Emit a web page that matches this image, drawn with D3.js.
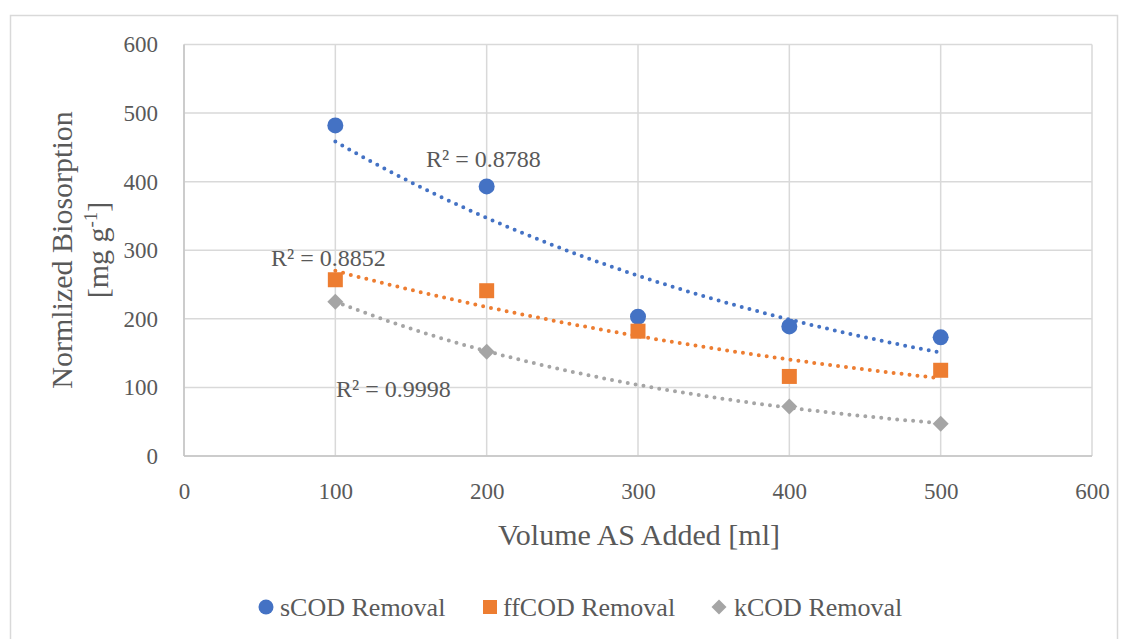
<!DOCTYPE html>
<html><head><meta charset="utf-8">
<script src="https://cdn.jsdelivr.net/npm/d3@7"></script>
<style>html,body{margin:0;padding:0;background:#fff;}svg{display:block;}</style>
</head><body>
<svg id="c" width="1128" height="639"></svg>
<script>
const xValues = [100, 200, 300, 400, 500];
const sCOD = [482, 393, 203, 189, 173];
const ffCOD = [257, 241, 182, 116, 125];
const kCOD = [225, 152, null, 72, 47];
const seriesNames = ["sCOD Removal", "ffCOD Removal", "kCOD Removal"];
const r2Labels = ["R² = 0.8788", "R² = 0.8852", "R² = 0.9998"];
const xTicks = [0, 100, 200, 300, 400, 500, 600];
const yTicks = [0, 100, 200, 300, 400, 500, 600];

(function () {
const colors = ["#4472C4", "#ED7D31", "#A5A5A5"];
const font = "'Liberation Serif', 'DejaVu Serif', serif";
const textColor = "#595959";
const svg = d3.select("#c");

svg.append("rect").attr("x", 10.5).attr("y", 15.5).attr("width", 1107).attr("height", 640)
  .attr("fill", "none").attr("stroke", "#d9d9d9").attr("stroke-width", 1.5);

const pL = 184, pR = 1092, pT = 44.5, pB = 456;
const x = d3.scaleLinear().domain([0, 600]).range([pL, pR]);
const y = d3.scaleLinear().domain([0, 600]).range([pB, pT]);

const g = svg.append("g");
g.selectAll(".hg").data(yTicks).join("line")
  .attr("x1", pL).attr("x2", pR).attr("y1", d => y(d)).attr("y2", d => y(d))
  .attr("stroke", "#d9d9d9").attr("stroke-width", 1.5);
g.selectAll(".vg").data(xTicks).join("line")
  .attr("y1", pT).attr("y2", pB).attr("x1", d => x(d)).attr("x2", d => x(d))
  .attr("stroke", "#d9d9d9").attr("stroke-width", 1.5);
g.append("line").attr("x1", pL).attr("x2", pR).attr("y1", pB).attr("y2", pB)
  .attr("stroke", "#c4c4c4").attr("stroke-width", 1.5);
g.append("line").attr("x1", pL).attr("x2", pL).attr("y1", pT).attr("y2", pB)
  .attr("stroke", "#c4c4c4").attr("stroke-width", 1.5);

const yAxis = svg.append("g").attr("transform", `translate(${pL},0)`)
  .call(d3.axisLeft(y).tickValues(yTicks).tickSize(0).tickPadding(26));
yAxis.attr("font-family", font).attr("font-size", 23);
yAxis.select(".domain").remove();
yAxis.selectAll("text").attr("font-family", font).attr("font-size", 23).attr("fill", textColor);

const xAxis = svg.append("g").attr("transform", `translate(0,${pB})`)
  .call(d3.axisBottom(x).tickValues(xTicks).tickSize(0));
xAxis.attr("font-family", font).attr("font-size", 23);
xAxis.select(".domain").remove();
xAxis.selectAll("text").attr("font-family", font).attr("font-size", 23).attr("fill", textColor)
  .attr("dy", null).attr("y", 43);

svg.append("text").attr("x", 639).attr("y", 545).attr("text-anchor", "middle")
  .attr("font-family", font).attr("font-size", 30).attr("fill", textColor)
  .text("Volume AS Added [ml]");
const yt = svg.append("text").attr("transform", "translate(0,250) rotate(-90)")
  .attr("text-anchor", "middle").attr("font-family", font).attr("font-size", 30).attr("fill", textColor);
yt.append("tspan").attr("x", 0).attr("y", 72).text("Normlized Biosorption");
const t2 = yt.append("tspan").attr("x", 0).attr("y", 108);
t2.append("tspan").text("[mg g");
t2.append("tspan").attr("dy", -11).attr("font-size", 19).text("-1");
t2.append("tspan").attr("dy", 11).text("]");

function expFit(xs, ys) {
  const pts = xs.map((d, i) => [d, ys[i]]).filter(p => p[1] != null);
  const mx = d3.mean(pts, p => p[0]);
  const ml = d3.mean(pts, p => Math.log(p[1]));
  const b = d3.sum(pts, p => (p[0] - mx) * (Math.log(p[1]) - ml)) / d3.sum(pts, p => (p[0] - mx) ** 2);
  const a = Math.exp(ml - b * mx);
  const xmin = d3.min(pts, p => p[0]), xmax = d3.max(pts, p => p[0]);
  return d3.range(0, 101).map(i => { const xx = xmin + (xmax - xmin) * i / 100; return [xx, a * Math.exp(b * xx)]; });
}
const allSeries = [sCOD, ffCOD, kCOD];
const line = d3.line().x(d => x(d[0])).y(d => y(d[1]));
allSeries.forEach((s, i) => {
  svg.append("path").attr("d", line(expFit(xValues, s))).attr("fill", "none")
    .attr("stroke", colors[i]).attr("stroke-width", 4).attr("stroke-linecap", "round")
    .attr("stroke-dasharray", "0 8");
});

const sym = [d3.symbolCircle, d3.symbolSquare, d3.symbolSquare];
const rot = [0, 0, 45];
const sizes = [201, 225, 128];
allSeries.forEach((s, i) => {
  svg.append("g").selectAll("path").data(xValues.map((d, j) => [d, s[j]]).filter(p => p[1] != null))
    .join("path").attr("transform", d => `translate(${x(d[0])},${y(d[1])}) rotate(${rot[i]})`)
    .attr("d", d3.symbol().type(sym[i]).size(sizes[i])).attr("fill", colors[i]);
});

const r2Pos = [[426, 167], [271, 266], [336, 397]];
r2Labels.forEach((t, i) => {
  svg.append("text").attr("x", r2Pos[i][0]).attr("y", r2Pos[i][1])
    .attr("font-family", font).attr("font-size", 24).attr("fill", textColor).text(t);
});

const legMarkX = [266, 490, 719];
const legTextX = [280, 503, 734];
const legSizes = [177, 196, 113];
seriesNames.forEach((n, i) => {
  svg.append("path").attr("transform", `translate(${legMarkX[i]},607) rotate(${rot[i]})`)
    .attr("d", d3.symbol().type(sym[i]).size(legSizes[i])).attr("fill", colors[i]);
  svg.append("text").attr("x", legTextX[i]).attr("y", 616)
    .attr("font-family", font).attr("font-size", 26).attr("fill", textColor).text(n);
});
})();
</script>
</body></html>
